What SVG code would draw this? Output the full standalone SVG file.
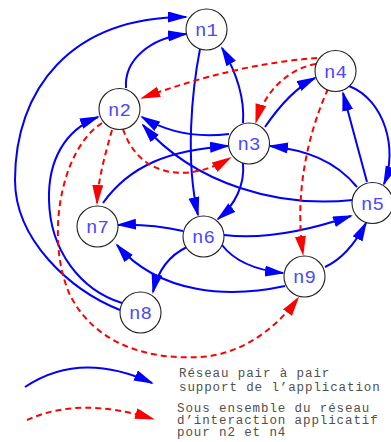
<svg xmlns="http://www.w3.org/2000/svg" width="391" height="442" viewBox="0 0 391 442">
<style>
.b{fill:none;stroke:#0000ff;stroke-width:2;marker-end:url(#ab)}
.r{fill:none;stroke:#ff0000;stroke-width:2;stroke-dasharray:6,4;marker-end:url(#ar)}
.nd circle{fill:#fff;stroke:#222;stroke-width:1.1}
.nd text{font-family:"Liberation Mono","Courier New",monospace;font-size:19px;fill:#4848ff;text-anchor:middle}
.lg{font-family:"Liberation Mono","Courier New",monospace;font-size:12.5px;letter-spacing:0.9px;fill:#505050}
</style>
<defs>
<marker id="ab" markerUnits="userSpaceOnUse" markerWidth="21" markerHeight="12" refX="18" refY="5.5" orient="auto"><path d="M0,0 L20,5.5 L0,11 z" fill="#0000ff"/></marker>
<marker id="ar" markerUnits="userSpaceOnUse" markerWidth="21" markerHeight="12" refX="18" refY="5.5" orient="auto"><path d="M0,0 L20,5.5 L0,11 z" fill="#ff0000"/></marker>
</defs>
<g id="connectors">
<path class="b" d="M120,310 C70,290 15,240 15,180 C15,90 70,17 186,17"/>
<path class="b" d="M122,303 C80,290 50,250 49,200 C48,160 65,130 98,117"/>
<path class="b" d="M126,88 C124,60 150,38 186,34"/>
<path class="b" d="M200,49 C192,90 185,160 198,215"/>
<path class="b" d="M243,123 C245,95 235,70 222,48"/>
<path class="b" d="M229,134 Q180,140 142,117"/>
<path class="b" d="M353,200 C280,208 195,185 143,125"/>
<path class="b" d="M103,203 C130,165 170,150 228,146"/>
<path class="b" d="M265,127 C280,105 295,88 315,78"/>
<path class="b" d="M357,187 C335,160 305,150 270,146"/>
<path class="b" d="M367,182 L343,93"/>
<path class="b" d="M349,86 C385,100 398,150 384,184"/>
<path class="b" d="M243,163 C245,185 235,205 218,219"/>
<path class="b" d="M183,231 C160,226 140,224 118,225"/>
<path class="b" d="M224,235 C265,240 310,230 351,216"/>
<path class="b" d="M222,245 C235,262 255,270 283,273"/>
<path class="b" d="M325,267 C345,258 357,240 366,223"/>
<path class="b" d="M285,286 C230,298 160,295 117,245"/>
<path class="b" d="M187,247 C170,255 158,270 153,292"/>
<path class="r" d="M317,58 Q235,64 142,98"/>
<path class="r" d="M316,64 C290,68 265,90 256,122"/>
<path class="r" d="M328,89 C305,140 295,200 303,254"/>
<path class="r" d="M112,130 C105,155 98,180 97,203"/>
<path class="r" d="M123,129 C138,175 185,185 230,158"/>
<path class="r" d="M102,123 C60,150 45,240 70,295 C95,345 150,360 200,357 C240,355 275,330 298,298"/>
</g>
<g id="n1" class="nd"><circle cx="206.5" cy="29.5" r="20.5"/><text x="206.5" y="36">n1</text></g>
<g id="n2" class="nd"><circle cx="119.5" cy="109" r="20.5"/><text x="119.5" y="115.5">n2</text></g>
<g id="n3" class="nd"><circle cx="249" cy="143.5" r="20.5"/><text x="249" y="150">n3</text></g>
<g id="n4" class="nd"><circle cx="335.5" cy="71" r="20.5"/><text x="335.5" y="77.5">n4</text></g>
<g id="n5" class="nd"><circle cx="372.5" cy="203" r="20.5"/><text x="372.5" y="209.5">n5</text></g>
<g id="n6" class="nd"><circle cx="203.5" cy="236.5" r="20.5"/><text x="203.5" y="243">n6</text></g>
<g id="n7" class="nd"><circle cx="97.5" cy="226.5" r="20.5"/><text x="97.5" y="233">n7</text></g>
<g id="n8" class="nd"><circle cx="140.5" cy="312.5" r="20.5"/><text x="140.5" y="319">n8</text></g>
<g id="n9" class="nd"><circle cx="304.5" cy="276.5" r="20.5"/><text x="304.5" y="283">n9</text></g>
<g id="legend">
<path class="b" d="M25,387 Q80,350 152,383"/>
<path class="r" d="M27,420 Q80,396 153,419"/>
<text class="lg" x="179" y="377">Réseau pair à pair</text>
<text class="lg" x="179" y="391">support de l’application</text>
<text class="lg" x="177" y="412">Sous ensemble du réseau</text>
<text class="lg" x="177" y="424">d’interaction applicatif</text>
<text class="lg" x="177" y="436">pour n2 et n4</text>
</g>
</svg>
